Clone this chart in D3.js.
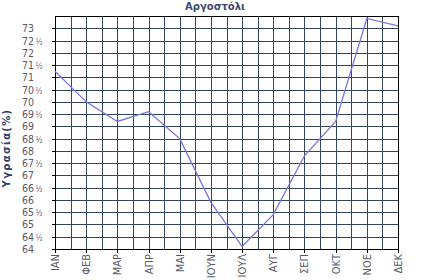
<!DOCTYPE html>
<html><head><meta charset="utf-8">
<script src="https://cdn.jsdelivr.net/npm/d3@7"></script>
<style>
body{margin:0;background:#fff;}
svg{display:block;}
</style></head>
<body>
<svg id="c" width="430" height="280"></svg>
<script>
const months = ["ΙΑΝ","ΦΕΒ","ΜΑΡ","ΑΠΡ","ΜΑΙ","ΙΟΥΝ","ΙΟΥΛ","ΑΥΓ","ΣΕΠ","ΟΚΤ","ΝΟΕ","ΔΕΚ"];
const humidity = [71.25, 70.0, 69.2, 69.6, 68.5, 65.9, 64.1, 65.4, 67.8, 69.2, 73.4, 73.1];
const yTicks = [64, 64.5, 65, 65.5, 66, 66.5, 67, 67.5, 68, 68.5, 69, 69.5, 70, 70.5, 71, 71.5, 72, 72.5, 73];
const title = "Αργοστόλι";
const yTitle = "Υγρασία(%)";

const svg = d3.select("#c");
const L = 55, R = 398, T = 16, B = 249;
const x = d3.scalePoint().domain(months).range([L, R]);
const y = d3.scaleLinear().domain([64, 73.5]).range([B, T]);
const step = x.step();

// grid
const g = svg.append("g");
const vx = [];
months.forEach((m, i) => { vx.push(x(m)); if (i < months.length - 1) vx.push(x(m) + step / 2); });
g.selectAll("line.v").data(vx).enter().append("line")
  .attr("x1", d => Math.round(d) + 0.5).attr("x2", d => Math.round(d) + 0.5)
  .attr("y1", T).attr("y2", B)
  .attr("stroke", "#33445f").attr("stroke-width", 1);
g.selectAll("line.h").data(yTicks).enter().append("line")
  .attr("x1", L).attr("x2", R)
  .attr("y1", d => Math.round(y(d)) + 0.5).attr("y2", d => Math.round(y(d)) + 0.5)
  .attr("stroke", "#33445f").attr("stroke-width", 1);

// border
svg.append("rect").attr("x", L + 0.5).attr("y", T + 0.5).attr("width", R - L).attr("height", B - T)
  .attr("fill", "none").attr("stroke", "#000").attr("stroke-width", 1);

// x ticks
svg.selectAll("line.xt").data(months).enter().append("line")
  .attr("x1", d => Math.round(x(d)) + 0.5).attr("x2", d => Math.round(x(d)) + 0.5)
  .attr("y1", B).attr("y2", B + 4).attr("stroke", "#000");
// y ticks
svg.selectAll("line.yt").data(yTicks).enter().append("line")
  .attr("x1", L - 3).attr("x2", L)
  .attr("y1", d => Math.round(y(d)) + 0.5).attr("y2", d => Math.round(y(d)) + 0.5)
  .attr("stroke", "#000");

// line
svg.append("path").datum(humidity)
  .attr("d", d3.line().x((d, i) => x(months[i])).y(d => y(d)))
  .attr("fill", "none").attr("stroke", "#7b74e0").attr("stroke-width", 1.3);

const font = "'Liberation Sans Narrow', 'DejaVu Sans Condensed', sans-serif";
// y labels
const yl = svg.selectAll("text.yl").data(yTicks).enter().append("text")
  .attr("x", 22).attr("y", d => y(d) + 4)
  .attr("font-family", font).attr("font-size", 10.5).attr("fill", "#5a5a66");
yl.append("tspan").text(d => String(Math.floor(d)));
yl.filter(d => d % 1 !== 0).append("tspan").attr("dx", 1.5).attr("font-size", 8).text("½");

// x labels
svg.selectAll("text.xl").data(months).enter().append("text")
  .attr("transform", d => `translate(${x(d) + 4},${B + 5}) rotate(-90)`)
  .attr("text-anchor", "end")
  .attr("font-family", font).attr("font-size", 11).attr("fill", "#5a5a66")
  .text(d => d);

// titles
svg.append("text").attr("x", 215).attr("y", 10).attr("text-anchor", "middle")
  .attr("font-family", "'DejaVu Sans', sans-serif").attr("font-weight", "bold").attr("font-size", 10)
  .attr("fill", "#3b4a70").text(title);
svg.append("text").attr("transform", "translate(10,148) rotate(-90)").attr("text-anchor", "middle")
  .attr("font-family", "'DejaVu Sans', sans-serif").attr("font-weight", "bold").attr("font-size", 10)
  .attr("letter-spacing", 1.3)
  .attr("fill", "#2d3f70").text(yTitle);
</script>
</body></html>
